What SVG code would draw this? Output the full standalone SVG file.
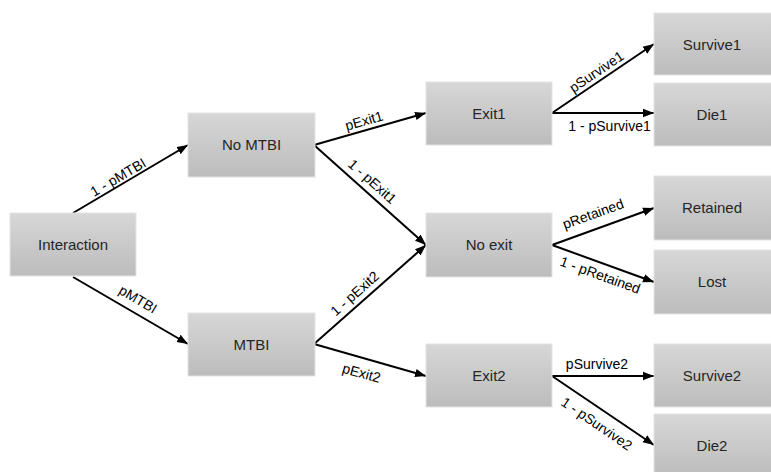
<svg xmlns="http://www.w3.org/2000/svg" width="771" height="472" viewBox="0 0 771 472">
<defs>
<linearGradient id="g" x1="0" y1="0" x2="0" y2="1">
<stop offset="0" stop-color="#d7d7d7"/>
<stop offset="1" stop-color="#bcbcbc"/>
</linearGradient>
<marker id="ah" markerUnits="userSpaceOnUse" markerWidth="12" markerHeight="10" viewBox="0 0 12 10" refX="11" refY="5" orient="auto">
<path d="M0,0.8 L11,5 L0,9.2 Z" fill="#000"/>
</marker>
<style>
.box{fill:url(#g);stroke:#e4e4e4;stroke-width:1}
.nt{font-family:"Liberation Sans",Arial,sans-serif;font-size:15px;fill:#262626;text-anchor:middle}
.el{font-family:"Liberation Sans",Arial,sans-serif;font-size:14px;fill:#000;text-anchor:middle}
.c{stroke:#000;stroke-width:2;fill:none;marker-end:url(#ah)}
</style>
</defs>
<rect width="771" height="472" fill="#fff"/>
<g id="connectors">
<line class="c" x1="73" y1="213" x2="188" y2="145"/>
<line class="c" x1="73" y1="277" x2="188" y2="344"/>
<line class="c" x1="314" y1="145" x2="426" y2="113"/>
<line class="c" x1="314" y1="145" x2="426" y2="245"/>
<line class="c" x1="314" y1="344" x2="426" y2="245"/>
<line class="c" x1="314" y1="344" x2="426" y2="376"/>
<line class="c" x1="552" y1="113" x2="654" y2="44"/>
<line class="c" x1="552" y1="113" x2="654" y2="113"/>
<line class="c" x1="552" y1="245" x2="654" y2="208"/>
<line class="c" x1="552" y1="245" x2="654" y2="282"/>
<line class="c" x1="552" y1="376" x2="654" y2="376"/>
<line class="c" x1="552" y1="376" x2="654" y2="445"/>
<g id="edge-labels">
<text class="el" transform="translate(119.5,179.5) rotate(-30.6)" dy="0.15em">1 - pMTBI</text>
<text class="el" transform="translate(137,301) rotate(30.6)" dy="0.2em">pMTBI</text>
<text class="el" transform="translate(365,124) rotate(-16)" dy="0.1em">pExit1</text>
<text class="el" transform="translate(371,183) rotate(41.8)" dy="0.2em">1 - pExit1</text>
<text class="el" transform="translate(356,295) rotate(-41.5)" dy="0.2em">1 - pExit2</text>
<text class="el" transform="translate(362,371) rotate(15.5)" dy="0.5em">pExit2</text>
<text class="el" transform="translate(598,74) rotate(-34)" dy="0.15em">pSurvive1</text>
<text class="el" x="609.5" y="131">1 - pSurvive1</text>
<text class="el" transform="translate(594,216.5) rotate(-19.9)" dy="0.15em">pRetained</text>
<text class="el" transform="translate(601,273) rotate(19.9)" dy="0.5em">1 - pRetained</text>
<text class="el" x="597" y="369">pSurvive2</text>
<text class="el" transform="translate(598,422) rotate(34.5)" dy="0.5em">1 - pSurvive2</text>
</g>
</g>
<g id="n-interaction"><rect class="box" x="10" y="213" width="126" height="63"/><text class="nt" x="73" y="250">Interaction</text></g>
<g id="n-nomtbi"><rect class="box" x="188" y="113" width="127" height="64"/><text class="nt" x="251.5" y="150">No MTBI</text></g>
<g id="n-mtbi"><rect class="box" x="188" y="313" width="127" height="63"/><text class="nt" x="251.5" y="350">MTBI</text></g>
<g id="n-exit1"><rect class="box" x="426" y="82" width="126" height="63"/><text class="nt" x="489" y="119">Exit1</text></g>
<g id="n-noexit"><rect class="box" x="426" y="213" width="126" height="64"/><text class="nt" x="489" y="250">No exit</text></g>
<g id="n-exit2"><rect class="box" x="426" y="344" width="126" height="63"/><text class="nt" x="489" y="381">Exit2</text></g>
<g id="n-survive1"><rect class="box" x="654" y="13" width="122" height="62"/><text class="nt" x="712" y="50">Survive1</text></g>
<g id="n-die1"><rect class="box" x="654" y="83" width="122" height="63"/><text class="nt" x="712" y="120">Die1</text></g>
<g id="n-retained"><rect class="box" x="654" y="176" width="122" height="64"/><text class="nt" x="712" y="213">Retained</text></g>
<g id="n-lost"><rect class="box" x="654" y="250" width="122" height="64"/><text class="nt" x="712" y="287">Lost</text></g>
<g id="n-survive2"><rect class="box" x="654" y="344" width="122" height="63"/><text class="nt" x="712" y="381">Survive2</text></g>
<g id="n-die2"><rect class="box" x="654" y="414" width="122" height="63"/><text class="nt" x="712" y="451">Die2</text></g>
</svg>
